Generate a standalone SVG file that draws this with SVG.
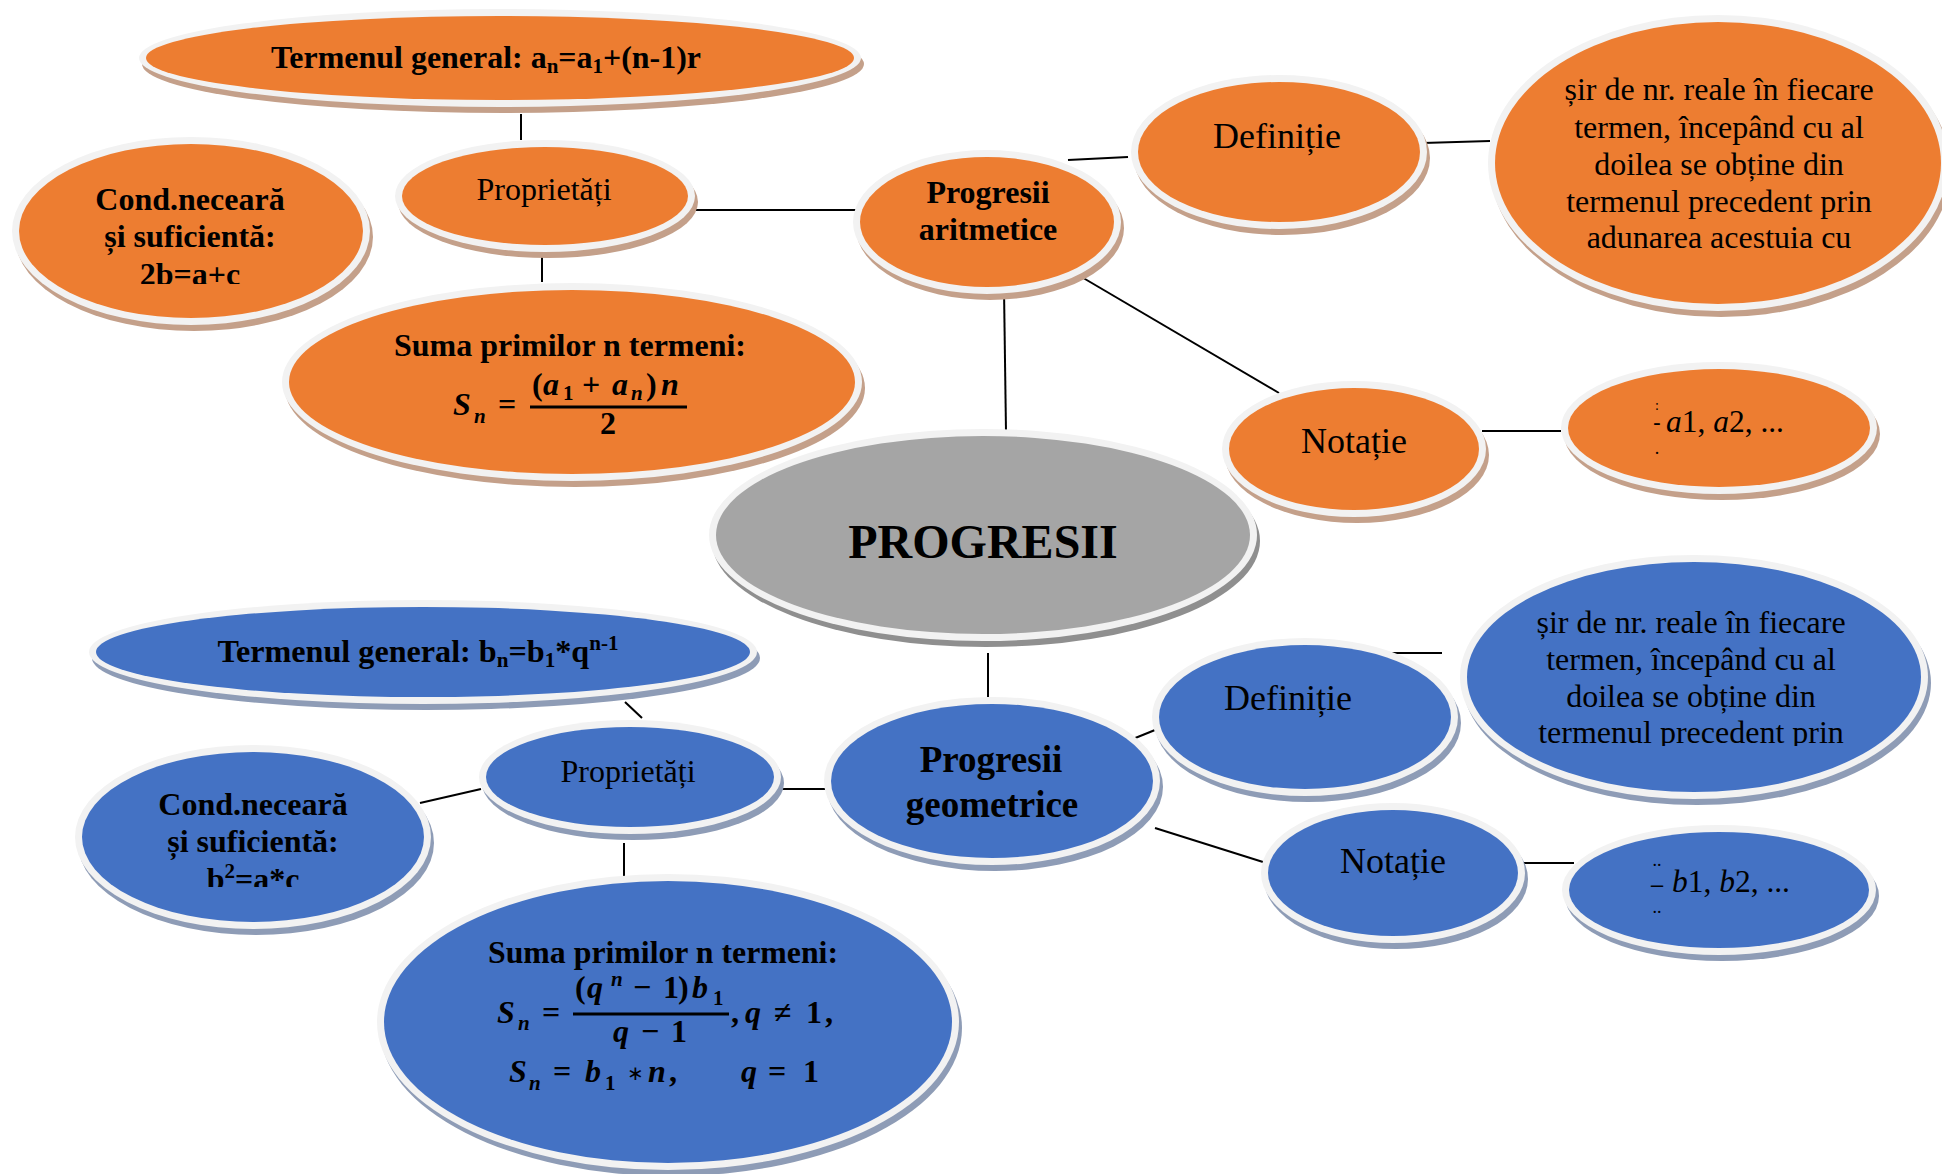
<svg xmlns="http://www.w3.org/2000/svg" width="1942" height="1174" viewBox="0 0 1942 1174">
<defs>
<style>
.o{fill:#ED7D31}.b{fill:#4472C4}.g{fill:#A5A5A5}
.w{fill:#F2F2F2}
.so{fill:#C4A08A}.sb{fill:#8E9CB6}.sg{fill:#8F8F8F}
text{font-family:"Liberation Serif","Times New Roman",serif;fill:#000}
.t{font-size:32px;text-anchor:middle}
.l{font-size:36px;text-anchor:middle}
.bd{font-weight:bold}
.m{font-family:"Liberation Serif","Times New Roman",serif;font-weight:bold;font-size:32px}
.i{font-style:italic}
.s{font-size:21px}
.conn line{stroke:#000;stroke-width:2}
</style>
<clipPath id="c1"><rect x="0" y="0" width="1942" height="284"/></clipPath>
<clipPath id="c2"><rect x="0" y="0" width="1942" height="887"/></clipPath>
<clipPath id="c3"><rect x="0" y="0" width="1942" height="746"/></clipPath>
</defs>
<rect width="1942" height="1174" fill="#fff"/>

<g id="connectors" class="conn">
<line x1="521" y1="114" x2="521" y2="140"/>
<line x1="693" y1="210" x2="856" y2="210"/>
<line x1="542" y1="249" x2="542" y2="282"/>
<line x1="1068" y1="160" x2="1128" y2="157"/>
<line x1="1423" y1="143" x2="1490" y2="141"/>
<line x1="1068" y1="269" x2="1279" y2="393"/>
<line x1="1004" y1="289" x2="1006" y2="432"/>
<line x1="1482" y1="431" x2="1561" y2="431"/>
<line x1="988" y1="653" x2="988" y2="697"/>
<line x1="625" y1="702" x2="642" y2="718"/>
<line x1="420" y1="803" x2="481" y2="789"/>
<line x1="624" y1="843" x2="624" y2="877"/>
<line x1="778" y1="789" x2="828" y2="789"/>
<line x1="1118" y1="745" x2="1155" y2="730"/>
<line x1="1380" y1="653" x2="1442" y2="653"/>
<line x1="1155" y1="828" x2="1263" y2="862"/>
<line x1="1516" y1="863" x2="1574" y2="863"/>
</g>

<g id="progresii">
<ellipse class="sg" cx="986" cy="541" rx="274" ry="106"/>
<ellipse class="w" cx="983" cy="535" rx="274" ry="106"/>
<ellipse class="g" cx="983" cy="535" rx="267" ry="99"/>
<text x="983" y="558" class="bd" font-size="48" text-anchor="middle">PROGRESII</text>
</g>

<g id="a-termen">
<ellipse class="so" cx="503" cy="64" rx="361" ry="49"/>
<ellipse class="w" cx="500" cy="58" rx="361" ry="49"/>
<ellipse class="o" cx="500" cy="58" rx="354" ry="42"/>
<text x="486" y="68" class="t bd" textLength="430" lengthAdjust="spacingAndGlyphs">Termenul general: a<tspan class="s" dy="5">n</tspan><tspan dy="-5">=a</tspan><tspan class="s" dy="5">1</tspan><tspan dy="-5">+(n-1)r</tspan></text>
</g>

<g id="a-proprietati">
<ellipse class="so" cx="548" cy="202" rx="150" ry="56"/>
<ellipse class="w" cx="545" cy="196" rx="150" ry="56"/>
<ellipse class="o" cx="545" cy="196" rx="143" ry="49"/>
<text x="544" y="200" class="t">Proprietăți</text>
</g>

<g id="a-conditie">
<ellipse class="so" cx="194" cy="237" rx="179" ry="94"/>
<ellipse class="w" cx="191" cy="231" rx="179" ry="94"/>
<ellipse class="o" cx="191" cy="231" rx="172" ry="87"/>
<text x="190" y="210" class="t bd">Cond.neceară</text>
<text x="190" y="247" class="t bd">și suficientă:</text>
<text x="190" y="285" class="t bd" clip-path="url(#c1)">2b=a+c</text>
</g>

<g id="a-suma">
<ellipse class="so" cx="575" cy="388" rx="290" ry="99"/>
<ellipse class="w" cx="572" cy="382" rx="290" ry="99"/>
<ellipse class="o" cx="572" cy="382" rx="283" ry="92"/>
<text x="570" y="356" class="t bd" textLength="352" lengthAdjust="spacingAndGlyphs">Suma primilor n termeni:</text>
<text class="m" y="415"><tspan class="i" x="453">S</tspan><tspan class="i s" x="474" y="423">n</tspan><tspan x="498" y="415">=</tspan></text>
<text class="m" y="395"><tspan x="532">(</tspan><tspan class="i" x="543">a</tspan><tspan class="s" x="563" y="400">1</tspan><tspan x="582" y="395">+</tspan><tspan class="i" x="612">a</tspan><tspan class="i s" x="631" y="400">n</tspan><tspan x="646" y="395">)</tspan><tspan class="i" x="661">n</tspan></text>
<line x1="530" y1="407" x2="687" y2="407" stroke="#000" stroke-width="3"/>
<text class="m" x="600" y="434">2</text>
</g>

<g id="a-progresii">
<ellipse class="so" cx="990" cy="228" rx="134" ry="72"/>
<ellipse class="w" cx="987" cy="222" rx="134" ry="72"/>
<ellipse class="o" cx="987" cy="222" rx="127" ry="65"/>
<text x="988" y="203" class="t bd">Progresii</text>
<text x="988" y="240" class="t bd">aritmetice</text>
</g>

<g id="a-definitie">
<ellipse class="so" cx="1282" cy="158" rx="148" ry="77"/>
<ellipse class="w" cx="1279" cy="152" rx="148" ry="77"/>
<ellipse class="o" cx="1279" cy="152" rx="141" ry="70"/>
<text x="1277" y="148" class="l">Definiție</text>
</g>

<g id="a-definitie-text">
<ellipse class="so" cx="1721" cy="169" rx="230" ry="148"/>
<ellipse class="w" cx="1718" cy="163" rx="230" ry="148"/>
<ellipse class="o" cx="1718" cy="163" rx="223" ry="141"/>
<text x="1719" y="100" class="t">șir de nr. reale în fiecare</text>
<text x="1719" y="138" class="t">termen, începând cu al</text>
<text x="1719" y="175" class="t">doilea se obține din</text>
<text x="1719" y="212" class="t">termenul precedent prin</text>
<text x="1719" y="248" class="t">adunarea acestuia cu</text>
</g>

<g id="a-notatie">
<ellipse class="so" cx="1357" cy="455" rx="132" ry="68"/>
<ellipse class="w" cx="1354" cy="449" rx="132" ry="68"/>
<ellipse class="o" cx="1354" cy="449" rx="125" ry="61"/>
<text x="1354" y="453" class="l">Notație</text>
</g>

<g id="a-notatie-val">
<ellipse class="so" cx="1722" cy="434" rx="158" ry="66"/>
<ellipse class="w" cx="1719" cy="428" rx="158" ry="66"/>
<ellipse class="o" cx="1719" cy="428" rx="151" ry="59"/>
<text x="1657" y="410" font-size="14" text-anchor="middle">:</text>
<text x="1657" y="429" font-size="22" font-weight="bold" text-anchor="middle">-</text>
<text x="1657" y="454" font-size="18" text-anchor="middle">.</text>
<text x="1666" y="432" font-size="31" textLength="118" lengthAdjust="spacingAndGlyphs"><tspan class="i">a</tspan>1, <tspan class="i">a</tspan>2, ...</text>
</g>

<g id="g-termen">
<ellipse class="sb" cx="426" cy="658" rx="334" ry="52"/>
<ellipse class="w" cx="423" cy="652" rx="334" ry="52"/>
<ellipse class="b" cx="423" cy="652" rx="327" ry="45"/>
<text x="418" y="662" class="t bd" textLength="401" lengthAdjust="spacingAndGlyphs">Termenul general: b<tspan class="s" dy="5">n</tspan><tspan dy="-5">=b</tspan><tspan class="s" dy="5">1</tspan><tspan dy="-5">*q</tspan><tspan class="s" dy="-12">n-1</tspan></text>
</g>

<g id="g-proprietati">
<ellipse class="sb" cx="633" cy="783" rx="151" ry="57"/>
<ellipse class="w" cx="630" cy="777" rx="151" ry="57"/>
<ellipse class="b" cx="630" cy="777" rx="144" ry="50"/>
<text x="628" y="782" class="t">Proprietăți</text>
</g>

<g id="g-conditie">
<ellipse class="sb" cx="256" cy="843" rx="178" ry="92"/>
<ellipse class="w" cx="253" cy="837" rx="178" ry="92"/>
<ellipse class="b" cx="253" cy="837" rx="171" ry="85"/>
<text x="253" y="815" class="t bd">Cond.neceară</text>
<text x="253" y="852" class="t bd">și suficientă:</text>
<text x="253" y="890" class="t bd" clip-path="url(#c2)">b<tspan class="s" dy="-12">2</tspan><tspan dy="12">=a*c</tspan></text>
</g>

<g id="g-suma">
<ellipse class="sb" cx="671" cy="1028" rx="291" ry="148"/>
<ellipse class="w" cx="668" cy="1022" rx="291" ry="148"/>
<ellipse class="b" cx="668" cy="1022" rx="284" ry="141"/>
<text x="663" y="963" class="t bd" textLength="350" lengthAdjust="spacingAndGlyphs">Suma primilor n termeni:</text>
<text class="m" y="1023"><tspan class="i" x="497">S</tspan><tspan class="i s" x="518" y="1030">n</tspan><tspan x="542" y="1023">=</tspan></text>
<text class="m" y="998"><tspan x="575">(</tspan><tspan class="i" x="587">q</tspan><tspan class="i s" x="611" y="986">n</tspan><tspan x="633" y="998">−</tspan><tspan x="663">1</tspan><tspan x="678">)</tspan><tspan class="i" x="692">b</tspan><tspan class="s" x="713" y="1005">1</tspan></text>
<line x1="573" y1="1014" x2="729" y2="1014" stroke="#000" stroke-width="3"/>
<text class="m" y="1042"><tspan class="i" x="613">q</tspan><tspan x="641">−</tspan><tspan x="671">1</tspan></text>
<text class="m" y="1023"><tspan x="731">,</tspan><tspan class="i" x="745">q</tspan><tspan x="774">≠</tspan><tspan x="806">1</tspan><tspan x="825">,</tspan></text>
<text class="m" y="1082"><tspan class="i" x="509">S</tspan><tspan class="i s" x="529" y="1090">n</tspan><tspan x="553" y="1082">=</tspan><tspan class="i" x="585">b</tspan><tspan class="s" x="605" y="1090">1</tspan><tspan x="627" y="1080" font-size="20" font-weight="normal">∗</tspan><tspan class="i" x="648" y="1082">n</tspan><tspan x="669">,</tspan><tspan class="i" x="741">q</tspan><tspan x="768">=</tspan><tspan x="803">1</tspan></text>
</g>

<g id="g-progresii">
<ellipse class="sb" cx="995" cy="787" rx="168" ry="84"/>
<ellipse class="w" cx="992" cy="781" rx="168" ry="84"/>
<ellipse class="b" cx="992" cy="781" rx="161" ry="77"/>
<text x="991" y="772" class="bd" font-size="37" text-anchor="middle">Progresii</text>
<text x="992" y="817" class="bd" font-size="37" text-anchor="middle">geometrice</text>
</g>

<g id="g-definitie">
<ellipse class="sb" cx="1308" cy="723" rx="153" ry="79"/>
<ellipse class="w" cx="1305" cy="717" rx="153" ry="79"/>
<ellipse class="b" cx="1305" cy="717" rx="146" ry="72"/>
<text x="1288" y="710" class="l">Definiție</text>
</g>

<g id="g-definitie-text">
<ellipse class="sb" cx="1697" cy="683" rx="234" ry="122"/>
<ellipse class="w" cx="1694" cy="677" rx="234" ry="122"/>
<ellipse class="b" cx="1694" cy="677" rx="227" ry="115"/>
<text x="1691" y="633" class="t">șir de nr. reale în fiecare</text>
<text x="1691" y="670" class="t">termen, începând cu al</text>
<text x="1691" y="707" class="t">doilea se obține din</text>
<text x="1691" y="743" class="t" clip-path="url(#c3)">termenul precedent prin</text>
</g>

<g id="g-notatie">
<ellipse class="sb" cx="1396" cy="879" rx="132" ry="70"/>
<ellipse class="w" cx="1393" cy="873" rx="132" ry="70"/>
<ellipse class="b" cx="1393" cy="873" rx="125" ry="63"/>
<text x="1393" y="873" class="l">Notație</text>
</g>

<g id="g-notatie-val">
<ellipse class="sb" cx="1722" cy="896" rx="157" ry="65"/>
<ellipse class="w" cx="1719" cy="890" rx="157" ry="65"/>
<ellipse class="b" cx="1719" cy="890" rx="150" ry="58"/>
<text x="1657" y="866" font-size="18" text-anchor="middle">..</text>
<text x="1657" y="892" font-size="24" font-weight="bold" text-anchor="middle">–</text>
<text x="1657" y="913" font-size="18" text-anchor="middle">..</text>
<text x="1672" y="892" font-size="31" textLength="118" lengthAdjust="spacingAndGlyphs"><tspan class="i">b</tspan>1, <tspan class="i">b</tspan>2, ...</text>
</g>
</svg>
